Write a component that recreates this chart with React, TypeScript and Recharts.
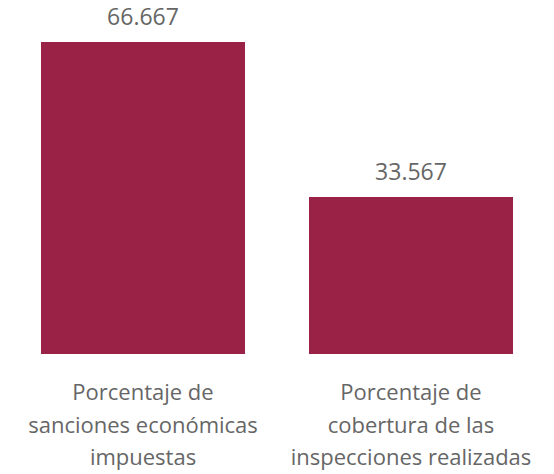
import { BarChart, Bar, XAxis, YAxis, LabelList } from 'recharts';

const categories = [
  ['Porcentaje de', 'sanciones económicas', 'impuestas'],
  ['Porcentaje de', 'cobertura de las', 'inspecciones realizadas'],
];
const values = [66.667, 33.567];
const valueLabels = ['66.667', '33.567'];

const data = categories.map((lines, i) => ({
  name: lines.join(' '),
  lines,
  value: values[i],
  label: valueLabels[i],
}));

const FONT = '"Open Sans", "Noto Sans", sans-serif';
const TEXT = '#666666';

function CategoryTick(props: any) {
  const { x, y, payload, index } = props;
  const lines = data[index]?.lines ?? [payload.value];
  return (
    <g transform={`translate(${x},${y})`}>
      {lines.map((line: string, i: number) => (
        <text
          key={i}
          x={0}
          y={38 + i * 32.5}
          textAnchor="middle"
          fill={TEXT}
          fontSize={22}
          fontFamily={FONT}
        >
          {line}
        </text>
      ))}
    </g>
  );
}

export default function App() {
  return (
    <div style={{ width: 554, height: 474, background: '#fff' }}>
      <style>{'body{margin:0}'}</style>
      <BarChart
        width={554}
        height={474}
        data={data}
        margin={{ top: 42, right: 9, left: 9, bottom: 0 }}
        barSize={204}
      >
        <XAxis
          dataKey="name"
          axisLine={false}
          tickLine={false}
          height={120}
          interval={0}
          tick={<CategoryTick />}
        />
        <YAxis hide domain={[0, 66.667]} />
        <Bar dataKey="value" fill="#9B2247" isAnimationActive={false}>
          <LabelList
            dataKey="label"
            position="top"
            offset={17}
            fill={TEXT}
            fontSize={23}
            fontFamily={FONT}
          />
        </Bar>
      </BarChart>
    </div>
  );
}
